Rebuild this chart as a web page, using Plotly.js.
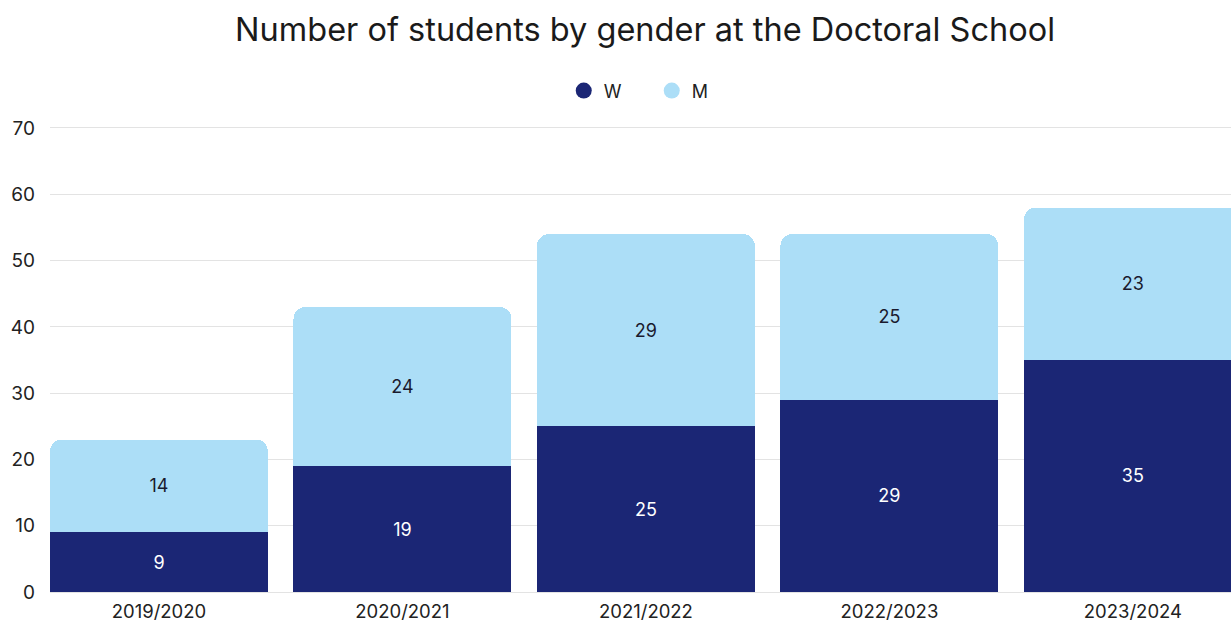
<!DOCTYPE html>
<html>
<head>
<meta charset="utf-8">
<script src="https://cdn.plot.ly/plotly-3.0.1.min.js"></script>
<style>html,body{margin:0;padding:0;background:#fff;overflow:hidden}</style>
</head>
<body>
<div id="chart" style="width:1231px;height:625px"></div>
<script>
const years = ["2019/2020", "2020/2021", "2021/2022", "2022/2023", "2023/2024"];
const women = [9, 19, 25, 29, 35];
const men = [14, 24, 29, 25, 23];
const seriesNames = ["W", "M"];
const colW = "#1b2675";
const colM = "#acdef7";
const FONT = "Inter, 'Noto Sans', sans-serif";

const traces = [
  {type: "bar", x: years, y: women, name: seriesNames[0], marker: {color: colW},
   texttemplate: "%{y}", textposition: "inside", insidetextanchor: "middle",
   textangle: 0, constraintext: "none",
   textfont: {color: "#ffffff", size: 18, family: FONT}, showlegend: false, hoverinfo: "x+y+name"},
  {type: "bar", x: years, y: men, name: seriesNames[1], marker: {color: colM},
   texttemplate: "%{y}", textposition: "inside", insidetextanchor: "middle",
   textangle: 0, constraintext: "none",
   textfont: {color: "#1a1a2e", size: 18, family: FONT}, showlegend: false, hoverinfo: "x+y+name"},
  {type: "scatter", mode: "markers", x: [null], y: [null], name: seriesNames[0],
   marker: {color: colW, size: 20, symbol: "circle"}, showlegend: true},
  {type: "scatter", mode: "markers", x: [null], y: [null], name: seriesNames[1],
   marker: {color: colM, size: 20, symbol: "circle"}, showlegend: true}
];

const layout = {
  width: 1231, height: 625,
  margin: {l: 50, r: 0, t: 125, b: 33},
  paper_bgcolor: "#ffffff", plot_bgcolor: "#ffffff",
  font: {family: FONT, color: "#222222"},
  title: {text: "Number of students by gender at the Doctoral School",
          x: 0.524, xanchor: "center", y: 0.952, yanchor: "middle", yref: "container",
          font: {size: 32.5, family: FONT, color: "#1a1a1a"}},
  barmode: "stack",
  bargap: 0.105,
  barcornerradius: 12,
  legend: {orientation: "h", traceorder: "normal", x: 0.435, xanchor: "left", y: 1.073, yanchor: "middle",
           font: {size: 18, family: FONT, color: "#222"}, itemwidth: 30,
           entrywidth: 43, entrywidthmode: "pixels"},
  xaxis: {type: "category", categoryorder: "array", categoryarray: years,
          range: [-0.4475, 4.403], showgrid: false, zeroline: false, showline: false,
          ticks: "", ticklabelstandoff: 6,
          tickfont: {size: 18.5, family: FONT, color: "#222"}, fixedrange: true},
  yaxis: {range: [0, 70.45], tickvals: [0, 10, 20, 30, 40, 50, 60, 70], showgrid: true, gridcolor: "#e3e3e3", gridwidth: 1,
          zeroline: true, zerolinecolor: "#e3e3e3", showline: false, ticks: "",
          ticklabelstandoff: 14,
          tickfont: {size: 19, family: FONT, color: "#222"}, fixedrange: true}
};

Plotly.newPlot("chart", traces, layout, {displayModeBar: false, staticPlot: true});
</script>
</body>
</html>
